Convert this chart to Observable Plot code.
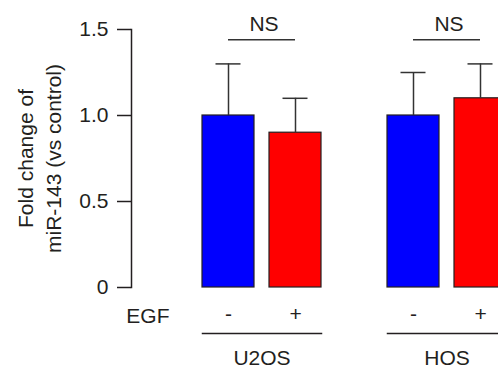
<!DOCTYPE html>
<html>
<head>
<meta charset="utf-8">
<script src="https://cdn.jsdelivr.net/npm/d3@7"></script>
<script src="https://cdn.jsdelivr.net/npm/@observablehq/plot@0.6"></script>
<style>
  html, body { margin: 0; padding: 0; background: #fff; overflow: hidden; }
</style>
</head>
<body>
<div id="chart"></div>
<script>
// ---- data ----
const cellLines = ["U2OS", "U2OS", "HOS", "HOS"];
const egfLevels = ["-", "+", "-", "+"];
const meanValues = [1.0, 0.9, 1.0, 1.1];
const upperValues = [1.3, 1.1, 1.25, 1.3];
const groupNames = ["U2OS", "HOS"];
const sigLabels = ["NS", "NS"];
const bracketLevels = [1.44, 1.44];
const yTickValues = [0, 0.5, 1.0, 1.5];
const yTitle = "Fold change of\nmiR-143 (vs control)";
const xTitle = "EGF";

const rows = cellLines.map((c, i) => ({cell: c, egf: egfLevels[i], mean: meanValues[i], upper: upperValues[i]}));
const brackets = groupNames.map((g, i) => ({cell: g, label: sigLabels[i], y: bracketLevels[i]}));

const ink = "#231f20";

const chart = Plot.plot({
  width: 498,
  height: 368,
  marginTop: 29,
  marginBottom: 81,
  marginLeft: 131,
  marginRight: -8,
  style: {fontFamily: "'Liberation Sans', Arial, Helvetica, sans-serif", fontSize: "21px", color: ink, background: "#fff"},
  fx: {domain: groupNames, paddingInner: 0.357, paddingOuter: 0.192, align: 1, label: null},
  x: {domain: ["-", "+"], paddingInner: 0.224, paddingOuter: 0, label: null},
  y: {domain: [0, 1.5], label: null},
  color: {domain: ["-", "+"], range: ["#0000ff", "#ff0000"]},
  marks: [
    Plot.barY(rows, {fx: "cell", x: "egf", y: "mean", fill: "egf", stroke: ink, strokeWidth: 1.2}),
    Plot.ruleX(rows, {fx: "cell", x: "egf", y1: "mean", y2: "upper", stroke: "#333", strokeWidth: 1.5}),
    Plot.tickY(rows, {fx: "cell", x: "egf", y: "upper", stroke: "#333", strokeWidth: 1.5, insetLeft: 13.5, insetRight: 13.5}),
    Plot.ruleY(brackets, {fx: "cell", y: "y", insetLeft: 26, insetRight: 26, stroke: "#333", strokeWidth: 1.5}),
    Plot.text(brackets, {fx: "cell", y: "y", text: "label", lineAnchor: "middle", dx: 2, dy: -16, fill: ink}),
    Plot.axisY({ticks: yTickValues, tickFormat: d => d === 0 ? "0" : d.toFixed(1), tickSize: 14, tickPadding: 9, dx: -71, strokeWidth: 1.5, label: null}),
    Plot.frame({anchor: "left", facetAnchor: "left", dx: -71, stroke: ink, strokeWidth: 1.5}),
    Plot.axisX({tickSize: 0, tickPadding: 19, label: null}),
    Plot.frame({anchor: "bottom", dy: 46, stroke: ink, strokeWidth: 1.5}),
    Plot.axisFx({anchor: "bottom", tickSize: 0, tickPadding: 63, label: null}),
    Plot.text([{cell: "U2OS"}], {fx: "cell", frameAnchor: "bottom-left", text: () => xTitle, textAnchor: "end", lineAnchor: "middle", dx: -33, dy: 29, fill: ink}),
    Plot.text([{cell: "U2OS"}], {fx: "cell", frameAnchor: "left", text: () => yTitle, rotate: -90, textAnchor: "middle", lineAnchor: "middle", lineHeight: 1.33, dx: -164, fill: ink})
  ]
});
document.getElementById("chart").appendChild(chart);
</script>
</body>
</html>
